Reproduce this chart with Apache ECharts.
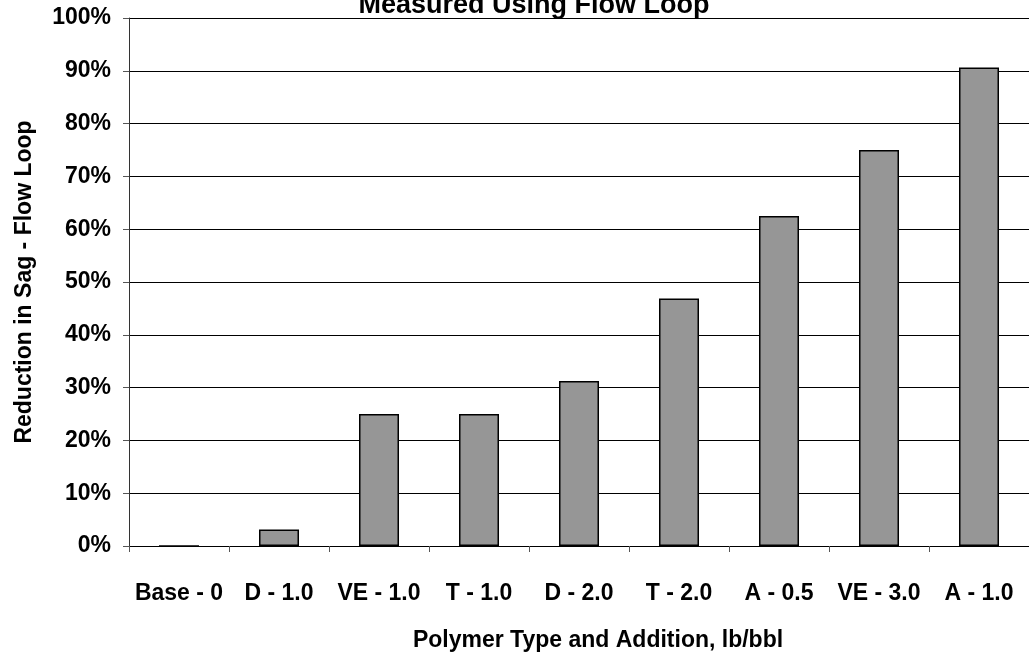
<!DOCTYPE html>
<html>
<head>
<meta charset="utf-8">
<script src="https://cdn.jsdelivr.net/npm/echarts@6/dist/echarts.min.js"></script>
<style>
html,body{margin:0;padding:0;background:#fff;}
#chart{width:1029px;height:654px;}
</style>
</head>
<body>
<div id="chart"></div>
<script>
const categories = ['Base - 0','D - 1.0','VE - 1.0','T - 1.0','D - 2.0','T - 2.0','A - 0.5','VE - 3.0','A - 1.0'];
const reductionPct = [0, 3.125, 25, 25, 31.25, 46.875, 62.5, 75, 90.625];
const titleText = 'Measured Using Flow Loop';
const xName = 'Polymer Type and Addition, lb/bbl';
const yName = 'Reduction in Sag - Flow Loop';

const FONT = '"Liberation Sans", Arial, Helvetica, sans-serif';
const chart = echarts.init(document.getElementById('chart'), null, {renderer:'canvas'});
chart.setOption({
  animation:false,
  backgroundColor:'#fff',
  grid:{left:129, top:18, width:907, height:528, containLabel:false},
  graphic:[
    {type:'text', x:534, y:6, z:10, style:{text:titleText, font:'bold 27px '+FONT, fill:'#000', textAlign:'center', textVerticalAlign:'middle'}},
    {type:'text', x:598, y:641, style:{text:xName, font:'bold 23px '+FONT, fill:'#000', textAlign:'center', textVerticalAlign:'middle'}}
  ],
  xAxis:{
    type:'category',
    data:categories,
    axisLine:{show:true, lineStyle:{color:'#000', width:1}},
    axisTick:{show:true, length:6, lineStyle:{color:'#555'}},
    axisLabel:{margin:36, color:'#000', fontFamily:FONT, fontWeight:'bold', fontSize:23, interval:0},
    splitLine:{show:false}
  },
  yAxis:{
    type:'value',
    min:0, max:100, interval:10,
    name:yName,
    nameLocation:'middle',
    nameRotate:90,
    nameGap:93,
    nameTextStyle:{color:'#000', fontFamily:FONT, fontWeight:'bold', fontSize:23},
    axisLine:{show:true, lineStyle:{color:'#333', width:1}},
    axisTick:{show:true, length:6, lineStyle:{color:'#555'}},
    axisLabel:{margin:18, color:'#000', fontFamily:FONT, fontWeight:'bold', fontSize:23, formatter:'{value}%'},
    splitLine:{show:true, lineStyle:{color:'#000', width:1}}
  },
  series:[{
    type:'bar',
    data:reductionPct,
    barWidth:40,
    itemStyle:{color:'#969696', borderColor:'#000', borderWidth:1.5}
  }]
});
</script>
</body>
</html>
